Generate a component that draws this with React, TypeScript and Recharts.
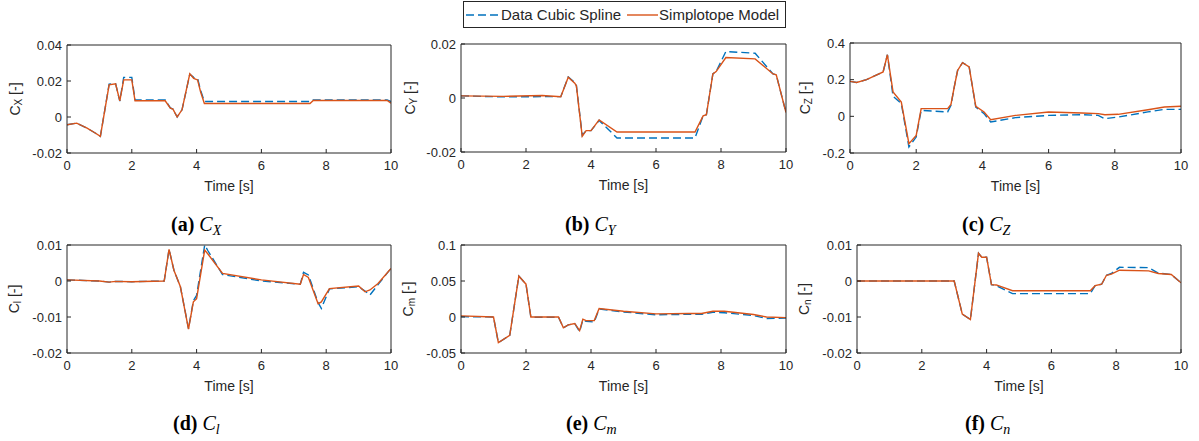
import React from 'react';
import { LineChart, Line, XAxis, YAxis } from 'recharts';

const BLUE = '#0072BD';
const RED = '#D95319';
const AXIS = '#262626';
const DATA_NAME = 'Data Cubic Spline';
const MODEL_NAME = 'Simplotope Model';

const timeTicks = [0, 2, 4, 6, 8, 10];

// C_X
const cxTime = [0, 0.3, 0.62, 0.87, 1.03, 1.3, 1.5, 1.63, 1.75, 2.0, 2.1, 3.03, 3.19, 3.27, 3.4, 3.55, 3.79, 3.91, 4.03, 4.12, 4.24, 7.5, 7.6, 9.88, 10];
const cxData = [-0.0043, -0.0034, -0.0062, -0.0089, -0.0108, 0.0182, 0.0185, 0.0088, 0.022, 0.022, 0.0095, 0.0095, 0.005, 0.0044, 0.0, 0.004, 0.0238, 0.022, 0.0215, 0.015, 0.0086, 0.0086, 0.0095, 0.0095, 0.0086];
const cxModel = [-0.0043, -0.0034, -0.0062, -0.0089, -0.0108, 0.0179, 0.0184, 0.009, 0.0206, 0.0206, 0.009, 0.009, 0.0049, 0.0044, 0.0, 0.004, 0.024, 0.0215, 0.0206, 0.0142, 0.0075, 0.0075, 0.0092, 0.0092, 0.0077];
const cxTicks = [-0.02, 0, 0.02, 0.04];

// C_Y
const cyTime = [0, 1.3, 2.5, 3.07, 3.3, 3.5, 3.55, 3.73, 3.85, 4.0, 4.25, 4.8, 7.2, 7.45, 7.55, 7.75, 7.85, 8.15, 9.05, 9.6, 9.7, 10];
const cyData = [0.0008, 0.0004, 0.0005, 0.0005, 0.0078, 0.0057, 0.0047, -0.0138, -0.0121, -0.0121, -0.0083, -0.0148, -0.0148, -0.0066, -0.0062, 0.0089, 0.0098, 0.0172, 0.0166, 0.0089, 0.0086, -0.0054];
const cyModel = [0.0008, 0.0006, 0.0009, 0.0005, 0.0077, 0.0055, 0.0045, -0.0142, -0.0121, -0.0121, -0.0081, -0.0126, -0.0126, -0.0066, -0.0062, 0.0089, 0.0098, 0.015, 0.0145, 0.0089, 0.0086, -0.0054];
const cyTicks = [-0.02, 0, 0.02];

// C_Z
const czTime = [0, 0.2, 0.5, 1.0, 1.13, 1.3, 1.55, 1.78, 2.0, 2.15, 2.95, 3.05, 3.15, 3.25, 3.4, 3.6, 3.8, 4.05, 4.25, 5, 6, 7, 7.5, 7.7, 8.1, 9, 9.5, 10];
const czData = [0.191, 0.185, 0.2, 0.242, 0.336, 0.11, 0.07, -0.167, -0.113, 0.033, 0.024, 0.06, 0.16, 0.25, 0.293, 0.27, 0.05, 0.015, -0.031, -0.007, 0.005, 0.009, 0.005, -0.013, -0.004, 0.024, 0.038, 0.038];
const czModel = [0.191, 0.185, 0.2, 0.242, 0.336, 0.133, 0.078, -0.149, -0.104, 0.042, 0.042, 0.065, 0.16, 0.25, 0.293, 0.27, 0.055, 0.024, -0.018, 0.005, 0.024, 0.018, 0.015, 0.009, 0.011, 0.036, 0.051, 0.055];
const czTicks = [-0.2, 0, 0.2, 0.4];

// C_l
const clTime = [0, 1.0, 1.3, 1.5, 2.0, 3.0, 3.15, 3.3, 3.5, 3.75, 3.9, 4.0, 4.25, 4.35, 4.8, 6.0, 7.2, 7.3, 7.45, 7.75, 7.85, 8.1, 9.0, 9.2, 9.35, 9.6, 10];
const clData = [0.0003, 0.0, -0.0003, -0.0001, -0.0002, 0.0, 0.0088, 0.003, -0.0016, -0.0132, -0.0055, -0.004, 0.01, 0.0084, 0.0018, 0.0, -0.0009, 0.0024, 0.0017, -0.006, -0.0076, -0.0022, -0.0016, -0.0028, -0.0039, -0.001, 0.0035];
const clModel = [0.0003, 0.0, -0.0003, -0.0001, -0.0002, 0.0, 0.0088, 0.003, -0.0016, -0.0134, -0.0058, -0.0049, 0.0086, 0.0075, 0.0021, 0.0003, -0.0009, 0.0018, 0.001, -0.0063, -0.0058, -0.0021, -0.0014, -0.003, -0.0025, -0.0007, 0.0035];
const clTicks = [-0.02, -0.01, 0, 0.01];

// C_m
const cmTime = [0, 1.0, 1.15, 1.5, 1.78, 2.0, 2.15, 3.0, 3.15, 3.3, 3.5, 3.65, 3.75, 3.85, 4.1, 4.25, 5, 6, 7, 7.4, 7.75, 8.1, 9, 9.4, 10];
const cmData = [0.0005, 0.0, -0.0357, -0.0254, 0.0568, 0.0456, -0.0003, -0.0003, -0.015, -0.011, -0.009, -0.0205, -0.004, -0.006, -0.007, 0.0112, 0.007, 0.003, 0.0038, 0.0038, 0.0065, 0.006, 0.002, -0.002, -0.0015];
const cmModel = [0.0015, 0.0, -0.0357, -0.0254, 0.0568, 0.0456, 0.0, 0.0, -0.015, -0.011, -0.009, -0.019, -0.003, -0.005, -0.005, 0.0117, 0.008, 0.0043, 0.0048, 0.0048, 0.008, 0.008, 0.0034, 0.0, -0.0008];
const cmTicks = [-0.05, 0, 0.05, 0.1];

// C_n
const cnTime = [0, 3.0, 3.25, 3.5, 3.75, 3.85, 4.0, 4.15, 4.3, 4.8, 7.2, 7.35, 7.55, 7.7, 7.85, 8.1, 9.0, 9.3, 9.7, 10];
const cnData = [0, 0, -0.0092, -0.0107, 0.0077, 0.0066, 0.0066, -0.001, -0.0013, -0.0035, -0.0035, -0.0013, -0.0009, 0.0016, 0.0021, 0.0038, 0.0037, 0.0022, 0.0018, -0.0005];
const cnModel = [0, 0, -0.0092, -0.0107, 0.0077, 0.0066, 0.0066, -0.001, -0.0011, -0.0027, -0.0027, -0.0013, -0.0009, 0.0016, 0.0019, 0.003, 0.0028, 0.0021, 0.0018, -0.0005];
const cnTicks = [-0.02, -0.01, 0, 0.01];

const YW = 70;
const MT = 9;
const MR = 12;
const XH = 46;

interface PanelProps {
  time: number[];
  data: number[];
  model: number[];
  yTicks: number[];
  sub: string;
  tag: string;
  left: number;
  top: number;
  w: number;
  h: number;
  labelGap: number;
  captionX: number;
  captionY: number;
}

const Panel = (p: PanelProps) => {
  const rows = p.time.map((t, i) => ({ t, data: p.data[i], model: p.model[i] }));
  const lo = p.yTicks[0];
  const hi = p.yTicks[p.yTicks.length - 1];
  const lx = YW - p.labelGap;
  const ly = MT + 1 + p.h / 2;
  return (
    <>
      <div style={{ position: 'absolute', left: p.left - YW, top: p.top - MT - 1 }}>
        <LineChart
          width={YW + p.w + 1 + MR}
          height={MT + 1 + p.h + XH}
          data={rows}
          margin={{ top: MT, right: MR, left: 0, bottom: 0 }}
        >
          <XAxis
            dataKey="t"
            type="number"
            domain={[0, 10]}
            ticks={timeTicks}
            interval={0}
            allowDataOverflow
            height={XH}
            stroke={AXIS}
            tickSize={-4}
            tickMargin={12}
            tick={{ fill: AXIS, fontSize: 13 }}
            label={{ value: 'Time [s]', position: 'insideBottom', offset: 8, fill: AXIS, fontSize: 14 }}
          />
          <XAxis
            xAxisId="top"
            orientation="top"
            dataKey="t"
            type="number"
            domain={[0, 10]}
            ticks={timeTicks}
            interval={0}
            allowDataOverflow
            height={1}
            stroke={AXIS}
            tickSize={-4}
            tick={false}
          />
          <YAxis
            type="number"
            domain={[lo, hi]}
            ticks={p.yTicks}
            interval={0}
            allowDataOverflow
            width={YW}
            stroke={AXIS}
            tickSize={-4}
            tickMargin={9}
            tick={{ fill: AXIS, fontSize: 13 }}
            label={() => (
              <text
                x={lx}
                y={ly}
                transform={`rotate(-90 ${lx} ${ly})`}
                textAnchor="middle"
                dominantBaseline="central"
                fill={AXIS}
                fontSize={14}
              >
                C<tspan dy={3} fontSize={10}>{p.sub}</tspan>
                <tspan dy={-3}> [-]</tspan>
              </text>
            )}
          />
          <YAxis
            yAxisId="right"
            orientation="right"
            type="number"
            domain={[lo, hi]}
            ticks={p.yTicks}
            interval={0}
            allowDataOverflow
            width={1}
            stroke={AXIS}
            tickSize={-4}
            tick={false}
          />
          <Line
            dataKey="data"
            name={DATA_NAME}
            stroke={BLUE}
            strokeWidth={1.4}
            strokeDasharray="8 4"
            dot={false}
            isAnimationActive={false}
          />
          <Line
            dataKey="model"
            name={MODEL_NAME}
            stroke={RED}
            strokeWidth={1.4}
            dot={false}
            isAnimationActive={false}
          />
        </LineChart>
      </div>
      {/* subfigure caption, left edge measured off the figure */}
      <div
        style={{
          position: 'absolute',
          left: p.captionX,
          top: p.captionY - 13,
          fontFamily: '"Liberation Serif", "Times New Roman", serif',
          fontSize: 20,
          lineHeight: '26px',
          color: '#000',
          whiteSpace: 'nowrap',
        }}
      >
        <b>({p.tag})</b>{' '}
        <i>
          C<sub style={{ fontSize: 14, verticalAlign: '-4px', lineHeight: 0 }}>{p.sub}</sub>
        </i>
      </div>
    </>
  );
};

const LegendBox = () => (
  <div
    style={{
      position: 'absolute',
      left: 463,
      top: 1,
      width: 321,
      height: 25,
      border: `1px solid ${AXIS}`,
      background: '#fff',
      display: 'flex',
      alignItems: 'center',
      fontSize: 15,
      color: AXIS,
      whiteSpace: 'nowrap',
    }}
  >
    <svg width={34} height={10} style={{ marginLeft: 2 }}>
      <line x1={0} y1={5} x2={34} y2={5} stroke={BLUE} strokeWidth={1.4} strokeDasharray="8 4" />
    </svg>
    <span style={{ marginLeft: 1 }}>{DATA_NAME}</span>
    <svg width={31} height={10} style={{ marginLeft: 6 }}>
      <line x1={0} y1={5} x2={31} y2={5} stroke={RED} strokeWidth={1.4} />
    </svg>
    <span style={{ marginLeft: 1 }}>{MODEL_NAME}</span>
  </div>
);

export default function App() {
  return (
    <div
      style={{
        position: 'absolute',
        left: 0,
        top: 0,
        width: 1199,
        height: 441,
        background: '#fff',
        fontFamily: '"Liberation Sans", Arial, sans-serif',
      }}
    >
      <LegendBox />
      <Panel time={cxTime} data={cxData} model={cxModel} yTicks={cxTicks} sub="X" tag="a"
        left={67} top={45} w={324} h={108} labelGap={52} captionX={171} captionY={224} />
      <Panel time={cyTime} data={cyData} model={cyModel} yTicks={cyTicks} sub="Y" tag="b"
        left={461} top={44} w={325} h={108} labelGap={51} captionX={565} captionY={224} />
      <Panel time={czTime} data={czData} model={czModel} yTicks={czTicks} sub="Z" tag="c"
        left={850} top={43} w={331} h={110} labelGap={45} captionX={962} captionY={224} />
      <Panel time={clTime} data={clData} model={clModel} yTicks={clTicks} sub="l" tag="d"
        left={67} top={245} w={324} h={108} labelGap={53} captionX={173} captionY={423} />
      <Panel time={cmTime} data={cmData} model={cmModel} yTicks={cmTicks} sub="m" tag="e"
        left={461} top={245} w={325} h={108} labelGap={53} captionX={566} captionY={423} />
      <Panel time={cnTime} data={cnData} model={cnModel} yTicks={cnTicks} sub="n" tag="f"
        left={857} top={245} w={324} h={108} labelGap={53} captionX={965} captionY={423} />
    </div>
  );
}
